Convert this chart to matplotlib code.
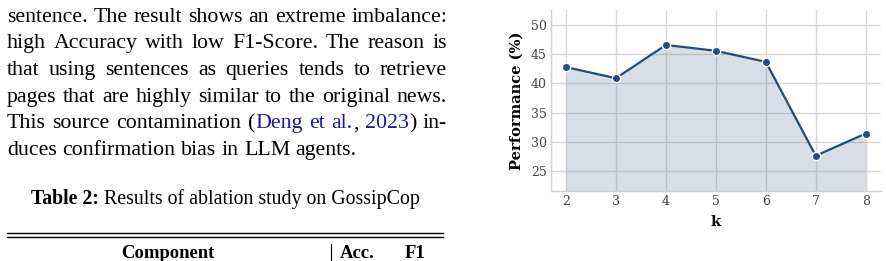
import matplotlib
matplotlib.use("Agg")
import matplotlib.pyplot as plt
from matplotlib.lines import Line2D

# ---------------- data ----------------
k_values = [2, 3, 4, 5, 6, 7, 8]
performance = [42.8, 40.9, 46.6, 45.6, 43.7, 27.6, 31.4]
y_ticks = [25, 30, 35, 40, 45, 50]

para_lines = [
    "sentence. The result shows an extreme imbalance:",
    "high Accuracy with low F1-Score. The reason is",
    "that using sentences as queries tends to retrieve",
    "pages that are highly similar to the original news.",
    "This source contamination (Deng et al., 2023) in-",
    "duces confirmation bias in LLM agents.",
]
caption_bold = "Table 2:"
caption_rest = " Results of ablation study on GossipCop"
table_headers = ["Component", "Acc.", "F1"]

LINE_C = "#1f4e7c"
LINK_C = "#1a1a9a"

W, H = 887, 261
fig = plt.figure(figsize=(W / 100, H / 100), dpi=100)
renderer = fig.canvas.get_renderer()

def px(x, y):
    return x / W, 1 - y / H

SERIF = ["Liberation Serif", "DejaVu Serif"]

def measure(s, fs, **kw):
    t = fig.text(0, 0, s, fontsize=fs, family=SERIF, **kw)
    w = t.get_window_extent(renderer).width
    t.remove()
    return w

# ---------------- left column text ----------------
x0, x1 = 7, 447
widest = max(measure(l, 10) for l in para_lines[:-1])
FS = 10 * (x1 - x0) / widest * 0.995
baselines = [21.5, 48.3, 75.0, 101.8, 128.5, 155.2]

def word_segments(word):
    blue_parts = {"(Deng": [("(", "black"), ("Deng", LINK_C)],
                  "et": [("et", LINK_C)],
                  "al.,": [("al.", LINK_C), (",", "black")],
                  "2023)": [("2023", LINK_C), (")", "black")]}
    return blue_parts.get(word, [(word, "black")])

space_w = measure("a b", FS) - measure("ab", FS)

for li, (line, yb) in enumerate(zip(para_lines, baselines)):
    words = line.split(" ")
    cite = (li == 4)
    segs = [word_segments(w) if cite else [(w, "black")] for w in words]
    widths = [measure("".join(s for s, _ in sg), FS) for sg in segs]
    total = sum(widths)
    if li < len(para_lines) - 1:
        gap = (x1 - x0 - total) / (len(words) - 1)
    else:
        gap = space_w
    x = x0
    for sg, w in zip(segs, widths):
        prefix = ""
        for s, c in sg:
            off = measure(prefix + s, FS) - measure(s, FS) if prefix else 0
            fig.text(*px(x + off, yb), s, fontsize=FS, family=SERIF, color=c,
                     ha="left", va="baseline")
            prefix += s
        x += w + gap

# caption
cap_w10 = measure(caption_bold, 10, weight="bold") + measure(caption_rest, 10)
CFS = 10 * 388 / cap_w10
wbw = measure(caption_bold, CFS, weight="bold")
wrw = measure(caption_rest, CFS)
cx = 225 - (wbw + wrw) / 2
fig.text(*px(cx, 204), caption_bold, fontsize=CFS, family=SERIF, weight="bold",
         ha="left", va="baseline")
fig.text(*px(cx + wbw, 204), caption_rest, fontsize=CFS, family=SERIF,
         ha="left", va="baseline")

# table rules
for yy in (233.3, 237.3):
    fig.add_artist(Line2D([7 / W, 443 / W], [1 - yy / H, 1 - yy / H],
                          transform=fig.transFigure, color="black", lw=1.0))
fig.add_artist(Line2D([331 / W, 331 / W], [1 - 244 / H, 0],
                      transform=fig.transFigure, color="black", lw=0.8))
TFS = 13.4
hb = 257.5
fig.text(*px(168, hb), table_headers[0], fontsize=TFS, family=SERIF,
         weight="bold", ha="center", va="baseline")
fig.text(*px(340, hb), table_headers[1], fontsize=TFS, family=SERIF,
         weight="bold", ha="left", va="baseline")
fig.text(*px(405, hb), table_headers[2], fontsize=TFS, family=SERIF,
         weight="bold", ha="left", va="baseline")

# ---------------- chart ----------------
l, r, t, b = 551, 880.7, 10, 190.7
ax = fig.add_axes([l / W, 1 - b / H, (r - l) / W, (b - t) / H])
ymin = min(performance) - 6
ymax = max(performance) + 6
ax.set_ylim(ymin, ymax)
ax.set_xlim(k_values[0] - 0.3, k_values[-1] + 0.3)
ax.fill_between(k_values, performance, ymin, color=LINE_C, alpha=0.18,
                lw=0, zorder=1)
ax.plot(k_values, performance, color=LINE_C, lw=1.6, marker="o", ms=6,
        mfc=LINE_C, mec="white", mew=1.0, zorder=3)
ax.set_xticks(k_values)
ax.set_yticks(y_ticks)
ax.grid(True, color="#d9d9d9", lw=1.0, zorder=0)
ax.set_axisbelow(True)
for s in ("top", "right"):
    ax.spines[s].set_visible(False)
for s in ("left", "bottom"):
    ax.spines[s].set_color("#d0d0d0")
    ax.spines[s].set_linewidth(1.0)
ax.tick_params(length=0, pad=3, labelsize=9, labelcolor="#444444")
for lab in ax.get_xticklabels() + ax.get_yticklabels():
    lab.set_family("DejaVu Serif")
ax.set_xlabel("k", family="DejaVu Serif", weight="bold", fontsize=10.5,
              labelpad=5)
ax.set_ylabel("Performance (%)", family="DejaVu Serif", weight="bold",
              fontsize=10.5, labelpad=5)

fig.savefig("out.png", dpi=100)
